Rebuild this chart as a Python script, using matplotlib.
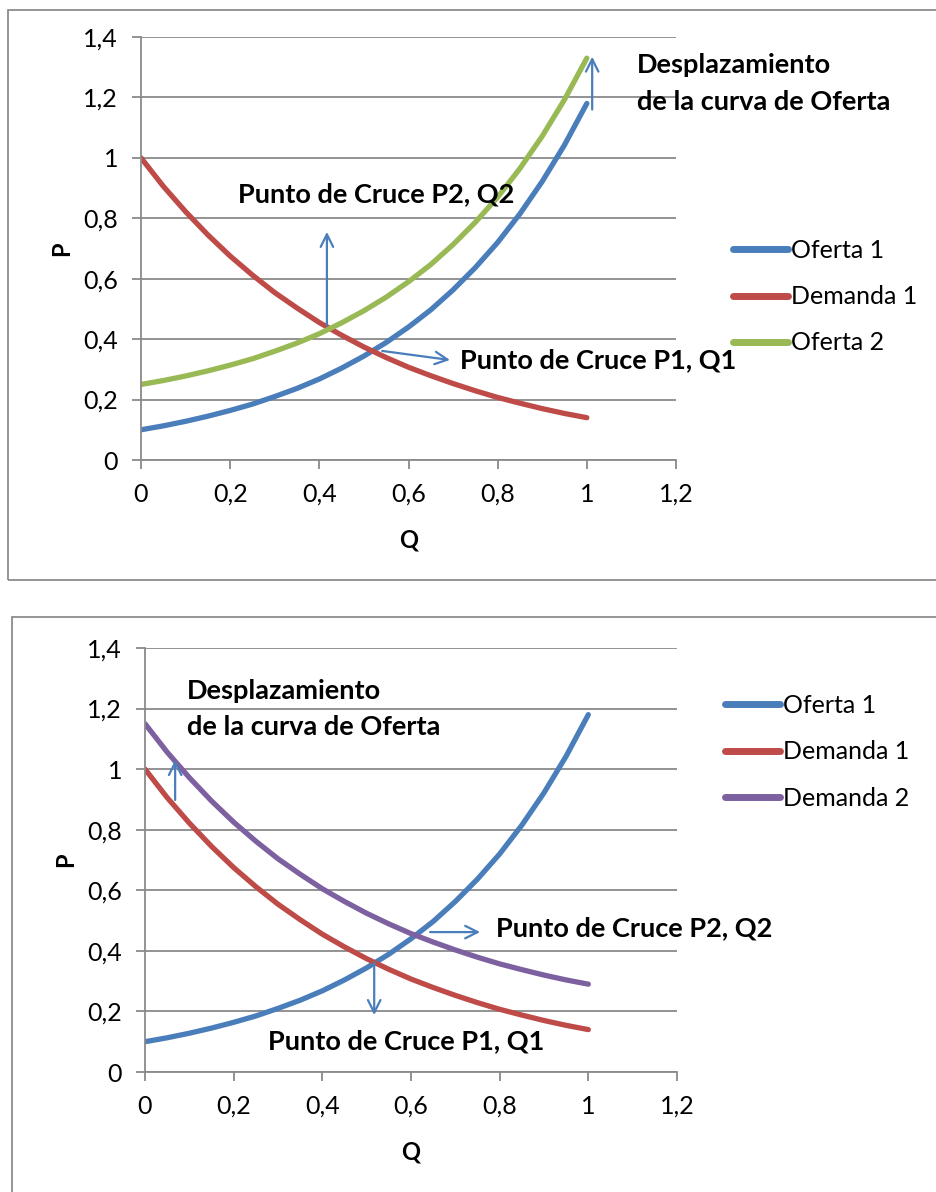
import matplotlib
matplotlib.use("Agg")
import matplotlib.pyplot as plt
from matplotlib.patches import Rectangle

# ---------------- data ----------------
q = [0.00, 0.05, 0.10, 0.15, 0.20, 0.25, 0.30, 0.35, 0.40, 0.45, 0.50,
     0.55, 0.60, 0.65, 0.70, 0.75, 0.80, 0.85, 0.90, 0.95, 1.00]
oferta1 = [0.100, 0.113, 0.128, 0.145, 0.164, 0.185, 0.210, 0.237, 0.268, 0.304, 0.344,
           0.389, 0.440, 0.497, 0.563, 0.637, 0.720, 0.815, 0.922, 1.043, 1.180]
oferta2 = [0.250, 0.263, 0.278, 0.295, 0.314, 0.335, 0.360, 0.387, 0.418, 0.454, 0.494,
           0.539, 0.590, 0.647, 0.713, 0.787, 0.870, 0.965, 1.072, 1.193, 1.330]
demanda1 = [1.000, 0.906, 0.822, 0.745, 0.675, 0.612, 0.554, 0.503, 0.455, 0.413, 0.374,
            0.339, 0.307, 0.279, 0.253, 0.229, 0.207, 0.188, 0.170, 0.154, 0.140]
demanda2 = [1.150, 1.056, 0.972, 0.895, 0.825, 0.762, 0.704, 0.653, 0.605, 0.563, 0.524,
            0.489, 0.457, 0.429, 0.403, 0.379, 0.357, 0.338, 0.320, 0.304, 0.290]

x_ticks = [0, 0.2, 0.4, 0.6, 0.8, 1.0, 1.2]
x_tick_labels = ["0", "0,2", "0,4", "0,6", "0,8", "1", "1,2"]
y_ticks = [0, 0.2, 0.4, 0.6, 0.8, 1.0, 1.2, 1.4]
y_tick_labels = ["0", "0,2", "0,4", "0,6", "0,8", "1", "1,2", "1,4"]

top_series = [("Oferta 1", oferta1), ("Demanda 1", demanda1), ("Oferta 2", oferta2)]
bottom_series = [("Oferta 1", oferta1), ("Demanda 1", demanda1), ("Demanda 2", demanda2)]

colors = {"Oferta 1": "#4A7EBB", "Demanda 1": "#BE4B48", "Oferta 2": "#98B954",
          "Demanda 2": "#7D60A0"}

shift_line1 = "Desplazamiento"
shift_line2 = "de la curva de Oferta"
label_p1 = "Punto de Cruce P1, Q1"
label_p2 = "Punto de Cruce P2, Q2"

# ---------------- figure ----------------
W, H = 936, 1192
fig = plt.figure(figsize=(W / 100, H / 100), dpi=100)
plt.rcParams['font.family'] = ['Lato', 'DejaVu Sans']

# chart frames
fig.patches.append(Rectangle((8 / W, 1 - 580 / H), 1.2, (580 - 10) / H,
                             transform=fig.transFigure, fill=False,
                             edgecolor="#8c8c8c", lw=1.3))
fig.patches.append(Rectangle((12 / W, -0.2), 1.2, 0.2 + 1 - 617 / H,
                             transform=fig.transFigure, fill=False,
                             edgecolor="#8c8c8c", lw=1.3))

grid_c = "#8a8a8a"
arrow_c = "#4A7EBB"
tick_fs = 18


def style_axes(ax):
    ax.set_xlim(0, 1.2)
    ax.set_ylim(0, 1.4)
    ax.set_xticks(x_ticks)
    ax.set_xticklabels(x_tick_labels)
    ax.set_yticks(y_ticks)
    ax.set_yticklabels(y_tick_labels)
    for s in ("top", "right"):
        ax.spines[s].set_visible(False)
    for s in ("left", "bottom"):
        ax.spines[s].set_color(grid_c)
        ax.spines[s].set_linewidth(1.3)
    ax.grid(axis="y", color=grid_c, lw=1.3)
    ax.set_axisbelow(True)
    ax.tick_params(axis="both", colors=grid_c, width=1.3, length=6.5,
                   labelcolor="black", labelsize=tick_fs)
    ax.tick_params(axis="x", pad=10)
    ax.tick_params(axis="y", pad=10)
    ax.set_xlabel("Q", fontsize=17, fontweight="bold", labelpad=16)
    ax.set_ylabel("P", fontsize=17, fontweight="bold", labelpad=7)


def arrow(ax, x0, y0, x1, y1):
    ax.annotate("", xy=(x1, y1), xytext=(x0, y0),
                arrowprops=dict(arrowstyle="->,head_length=0.9,head_width=0.45",
                                color=arrow_c, lw=1.6, shrinkA=0, shrinkB=0))


txt_kw = dict(fontsize=19.5, fontweight="bold", color="black",
              va="baseline", ha="left")


def ftext(xp, yp, s):
    fig.text(xp / W, 1 - yp / H, s, **txt_kw)


leg_kw = dict(bbox_transform=fig.transFigure, frameon=False, fontsize=tick_fs,
              handlelength=2.2, handletextpad=0.12, labelspacing=0.93,
              borderpad=0, borderaxespad=0, loc="upper left")

# ---------------- top chart ----------------
ax1 = fig.add_axes([141 / W, 1 - 460 / H, 535 / W, 423 / H])
for name, vals in top_series:
    ax1.plot(q, vals, color=colors[name], lw=3.8, label=name,
             solid_capstyle="round", solid_joinstyle="round")
style_axes(ax1)
arrow(ax1, 0.417, 0.446, 0.417, 0.755)
arrow(ax1, 0.541, 0.361, 0.693, 0.331)
arrow(ax1, 1.012, 1.16, 1.012, 1.335)
ftext(637, 73, shift_line1)
ftext(637, 110, shift_line2)
ftext(238, 202, label_p2)
ftext(460, 368, label_p1)
leg1 = ax1.legend(bbox_to_anchor=(733 / W, 1 - 239 / H), **leg_kw)
for h in leg1.get_lines():
    h.set_linewidth(5)

# ---------------- bottom chart ----------------
ax2 = fig.add_axes([145 / W, 1 - 1072 / H, 532 / W, 424 / H])
for name, vals in bottom_series:
    ax2.plot(q, vals, color=colors[name], lw=3.8, label=name,
             solid_capstyle="round", solid_joinstyle="round")
style_axes(ax2)
arrow(ax2, 0.068, 0.898, 0.068, 1.03)
arrow(ax2, 0.643, 0.462, 0.756, 0.462)
arrow(ax2, 0.517, 0.363, 0.517, 0.188)
ftext(187, 699, shift_line1)
ftext(187, 735, shift_line2)
ftext(496, 936, label_p2)
ftext(268, 1049, label_p1)
leg2 = ax2.legend(bbox_to_anchor=(725 / W, 1 - 694 / H), **leg_kw)
for h in leg2.get_lines():
    h.set_linewidth(5)

fig.savefig("out.png", dpi=100)
